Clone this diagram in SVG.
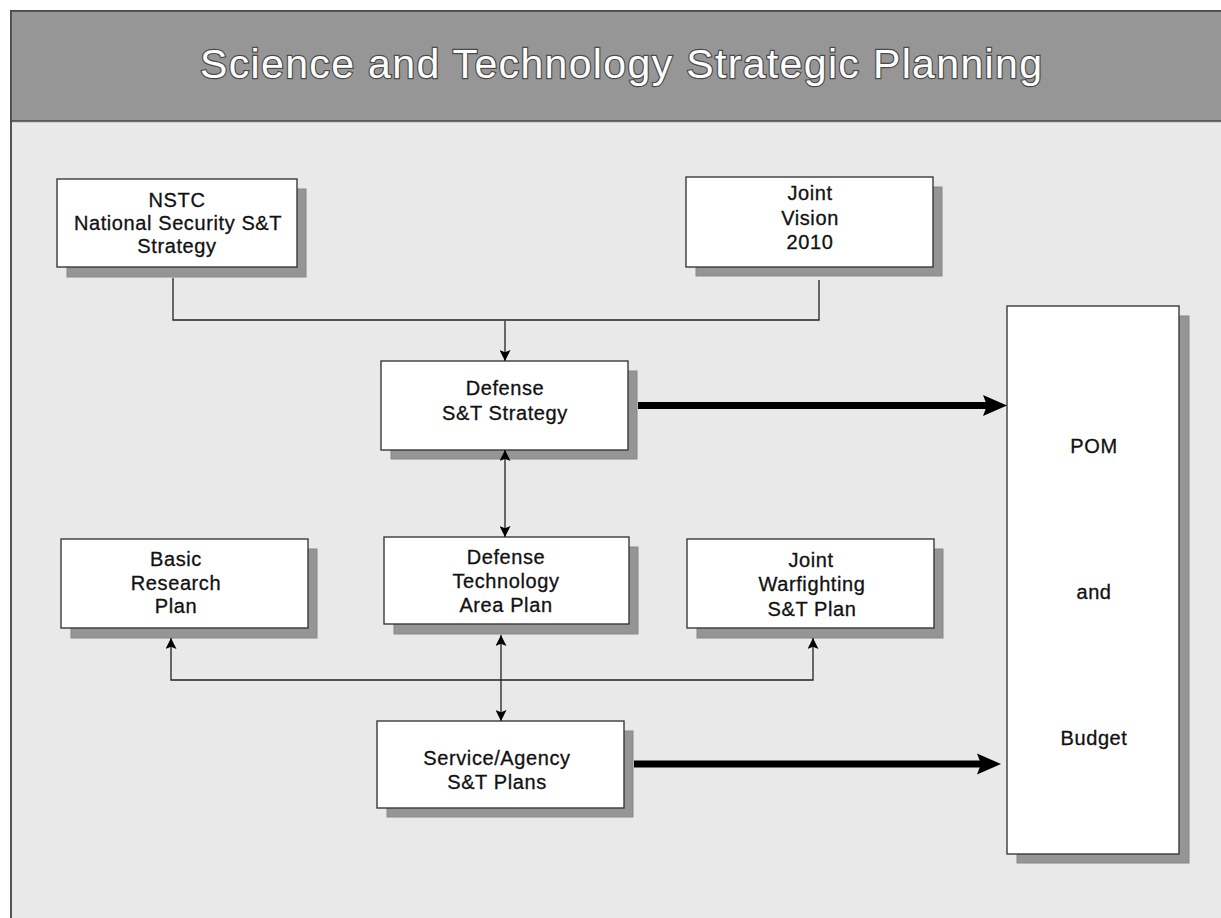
<svg xmlns="http://www.w3.org/2000/svg" width="1221" height="918" viewBox="0 0 1221 918">
  <style>
    .shadow { fill: #959595; stroke: #878787; stroke-width: 1; }
    .box { fill: #ffffff; stroke: #3a3a3a; stroke-width: 1.4; }
    .lbl { font-family: "Liberation Sans", Arial, sans-serif; font-size: 20px; fill: #111111; stroke: #111111; stroke-width: 0.3px; text-anchor: middle; letter-spacing: 0.6px; }
    .conn { stroke: #222222; stroke-width: 1.3; fill: none; }
    .thick { stroke: #000000; stroke-width: 7; fill: none; }
    .bighead { fill: #000000; }
  </style>
  <defs>
    <marker id="tip" viewBox="0 0 10 10" refX="10" refY="5" markerWidth="11" markerHeight="11" markerUnits="userSpaceOnUse" orient="auto-start-reverse">
      <path d="M0,0 L10,5 L0,10 L2,5 z" fill="#000000"/>
    </marker>
  </defs>

  <!-- page frame and title band -->
  <rect x="11" y="11" width="1216" height="912" fill="#e9e9e9" stroke="#555555" stroke-width="2"/>
  <rect x="11" y="11" width="1216" height="110" fill="#969696" stroke="#444444" stroke-width="1.5"/>
  <line x1="12" y1="122.5" x2="1221" y2="122.5" stroke="#cfcfcf" stroke-width="1"/>
  <text x="621" y="78" font-family="'Liberation Sans', Arial, sans-serif" font-size="41" fill="#ffffff" stroke="#4a4a4a" stroke-width="2.4" paint-order="stroke" text-anchor="middle" textLength="842" lengthAdjust="spacing">Science and Technology Strategic Planning</text>

  <!-- nodes -->
  <g id="nstc">
    <rect class="shadow" x="67" y="189" width="239" height="88"/>
    <rect class="box" x="57" y="179" width="240" height="88"/>
    <text class="lbl" x="177" y="207">NSTC</text>
    <text class="lbl" x="178" y="230">National Security S&amp;T</text>
    <text class="lbl" x="177" y="253">Strategy</text>
  </g>

  <g id="joint-vision">
    <rect class="shadow" x="696" y="187" width="246" height="89"/>
    <rect class="box" x="686" y="177" width="247" height="90"/>
    <text class="lbl" x="810" y="200">Joint</text>
    <text class="lbl" x="810" y="225">Vision</text>
    <text class="lbl" x="810" y="249">2010</text>
  </g>

  <g id="defense-strategy">
    <rect class="shadow" x="391" y="371" width="246" height="88"/>
    <rect class="box" x="381" y="361" width="247" height="89"/>
    <text class="lbl" x="505" y="395">Defense</text>
    <text class="lbl" x="505" y="420">S&amp;T Strategy</text>
  </g>

  <g id="basic-research">
    <rect class="shadow" x="71" y="549" width="246" height="89"/>
    <rect class="box" x="61" y="539" width="247" height="89"/>
    <text class="lbl" x="176" y="566">Basic</text>
    <text class="lbl" x="176" y="590">Research</text>
    <text class="lbl" x="176" y="613">Plan</text>
  </g>

  <g id="defense-tech-area">
    <rect class="shadow" x="394" y="547" width="244" height="87"/>
    <rect class="box" x="384" y="537" width="245" height="87"/>
    <text class="lbl" x="506" y="564">Defense</text>
    <text class="lbl" x="506" y="588">Technology</text>
    <text class="lbl" x="506" y="612">Area Plan</text>
  </g>

  <g id="joint-warfighting">
    <rect class="shadow" x="697" y="549" width="246" height="89"/>
    <rect class="box" x="687" y="539" width="247" height="89"/>
    <text class="lbl" x="811" y="567">Joint</text>
    <text class="lbl" x="812" y="591">Warfighting</text>
    <text class="lbl" x="812" y="616">S&amp;T Plan</text>
  </g>

  <g id="service-agency">
    <rect class="shadow" x="387" y="731" width="246" height="86"/>
    <rect class="box" x="377" y="721" width="247" height="87"/>
    <text class="lbl" x="497" y="765">Service/Agency</text>
    <text class="lbl" x="497" y="789">S&amp;T Plans</text>
  </g>

  <g id="pom-budget">
    <rect class="shadow" x="1017" y="316" width="172" height="547"/>
    <rect class="box" x="1007" y="306" width="172" height="548"/>
    <text class="lbl" x="1094" y="453">POM</text>
    <text class="lbl" x="1094" y="599">and</text>
    <text class="lbl" x="1094" y="745">Budget</text>
  </g>

  <!-- connectors, drawn above the node shadows -->
  <g id="connectors">
    <polyline class="conn" points="173,278 173,320 819,320 819,280"/>
    <line class="conn" x1="505" y1="321" x2="505" y2="361" marker-end="url(#tip)"/>
    <line class="conn" x1="505" y1="450" x2="505" y2="537" marker-start="url(#tip)" marker-end="url(#tip)"/>
    <line class="conn" x1="501" y1="635" x2="501" y2="721" marker-start="url(#tip)" marker-end="url(#tip)"/>
    <polyline class="conn" points="171,638 171,680 813,680 813,638" marker-start="url(#tip)" marker-end="url(#tip)"/>
    <line class="thick" x1="638" y1="405.5" x2="988" y2="405.5"/>
    <path class="bighead" d="M1007,405.5 L983,395 L987,405.5 L983,416 z"/>
    <line class="thick" x1="634" y1="764" x2="982" y2="764"/>
    <path class="bighead" d="M1001,764 L977,753.5 L981,764 L977,774.5 z"/>
  </g>
</svg>
